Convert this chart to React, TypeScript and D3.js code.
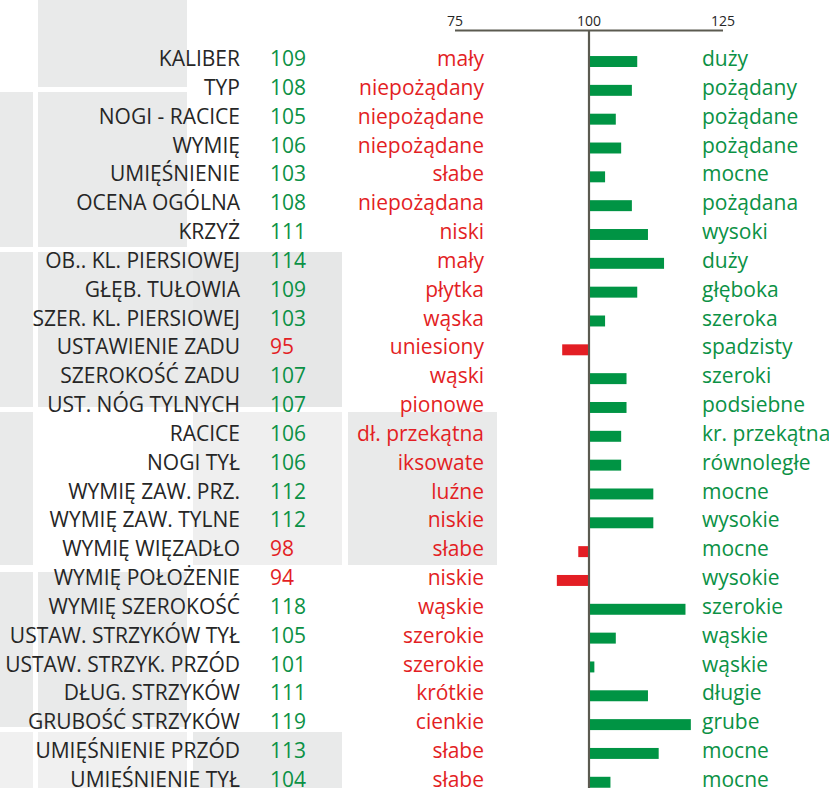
import * as d3 from 'd3';

const traits = [
  'KALIBER', 'TYP', 'NOGI - RACICE', 'WYMIĘ', 'UMIĘŚNIENIE', 'OCENA OGÓLNA', 'KRZYŻ',
  'OB.. KL. PIERSIOWEJ', 'GŁĘB. TUŁOWIA', 'SZER. KL. PIERSIOWEJ', 'USTAWIENIE ZADU',
  'SZEROKOŚĆ ZADU', 'UST. NÓG TYLNYCH', 'RACICE', 'NOGI TYŁ', 'WYMIĘ ZAW. PRZ.',
  'WYMIĘ ZAW. TYLNE', 'WYMIĘ WIĘZADŁO', 'WYMIĘ POŁOŻENIE', 'WYMIĘ SZEROKOŚĆ',
  'USTAW. STRZYKÓW TYŁ', 'USTAW. STRZYK. PRZÓD', 'DŁUG. STRZYKÓW', 'GRUBOŚĆ STRZYKÓW',
  'UMIĘŚNIENIE PRZÓD', 'UMIĘŚNIENIE TYŁ',
];

const scores = [
  109, 108, 105, 106, 103, 108, 111, 114, 109, 103, 95, 107, 107, 106, 106, 112, 112, 98, 94,
  118, 105, 101, 111, 119, 113, 104,
];

const lowWords = [
  'mały', 'niepożądany', 'niepożądane', 'niepożądane', 'słabe', 'niepożądana', 'niski', 'mały',
  'płytka', 'wąska', 'uniesiony', 'wąski', 'pionowe', 'dł. przekątna', 'iksowate', 'luźne',
  'niskie', 'słabe', 'niskie', 'wąskie', 'szerokie', 'szerokie', 'krótkie', 'cienkie', 'słabe', 'słabe',
];

const highWords = [
  'duży', 'pożądany', 'pożądane', 'pożądane', 'mocne', 'pożądana', 'wysoki', 'duży', 'głęboka',
  'szeroka', 'spadzisty', 'szeroki', 'podsiebne', 'kr. przekątna', 'równoległe', 'mocne', 'wysokie',
  'mocne', 'wysokie', 'szerokie', 'wąskie', 'wąskie', 'długie', 'grube', 'mocne', 'mocne',
];

const axisTicks = [75, 100, 125];

// decorative background tiles (x, y, w, h, fill)
const tiles: Array<[number, number, number, number, string]> = [
  [38, 0, 149, 87, '#e9eaea'],
  [0, 92, 33, 155, '#e9eaea'],
  [38, 92, 149, 155, '#e9eaea'],
  [0, 252, 33, 155, '#e9eaea'],
  [38, 252, 155, 155, '#e9eaea'],
  [193, 252, 149, 155, '#e6e7e7'],
  [0, 412, 33, 153, '#e9eaea'],
  [193, 412, 149, 153, '#efefef'],
  [348, 412, 149, 153, '#e9eaea'],
  [0, 572, 33, 155, '#e9eaea'],
  [38, 572, 149, 155, '#e9eaea'],
  [0, 732, 33, 56, '#f0f0f0'],
  [38, 732, 149, 56, '#f0f0f0'],
  [193, 732, 149, 56, '#e9eaea'],
];

const GREEN = '#009444';
const GREEN_TEXT = '#0b9145';
const RED = '#e31e24';
const DARK = '#262626';
const AXIS = '#5b5a50';
const FONT = "'Open Sans', sans-serif";

export default function App() {
  const width = 829;
  const height = 788;
  const x = d3.scaleLinear().domain([75, 125]).range([455, 723]);
  const y = d3
    .scaleBand<string>()
    .domain(traits)
    .range([47.1, 47.1 + traits.length * 28.83])
    .paddingInner(0.62)
    .paddingOuter(0.31);
  const bw = y.bandwidth();
  const rows = traits.map((name, i) => ({
    name,
    score: scores[i],
    low: lowWords[i],
    high: highWords[i],
  }));

  return (
    <>
      <style>{'body{margin:0}'}</style>
      <svg width={width} height={height} style={{ display: 'block', fontFamily: FONT }}>
        <rect width={width} height={height} fill="#ffffff" />
        {tiles.map(([tx, ty, tw, th, fill], i) => (
          <rect key={i} x={tx} y={ty} width={tw} height={th} fill={fill} />
        ))}

        <line x1={x(75)} x2={x(125)} y1={30.5} y2={30.5} stroke={AXIS} strokeWidth={2.2} />
        <line x1={x(100)} x2={x(100)} y1={30} y2={height} stroke={AXIS} strokeWidth={2.2} />
        {axisTicks.map((t) => (
          <text key={t} x={x(t)} y={25.5} textAnchor="middle" fontSize={14} fill={DARK}>
            {t}
          </text>
        ))}

        {rows.map((r) => {
          const top = y(r.name) ?? 0;
          const mid = top + bw / 2;
          const base = mid + 4.6;
          const good = r.score >= 100;
          const x0 = x(Math.min(100, r.score));
          const x1 = x(Math.max(100, r.score));
          return (
            <g key={r.name}>
              <text x={240} y={base} textAnchor="end" fontSize={21} fill={DARK}>
                {r.name}
              </text>
              <text x={270} y={base} fontSize={21} fill={good ? GREEN_TEXT : RED}>
                {r.score}
              </text>
              <text x={484} y={base} textAnchor="end" fontSize={21} fill={RED}>
                {r.low}
              </text>
              <rect
                x={good ? x0 + 1 : x0}
                y={top}
                width={Math.max(0, x1 - x0 - 1)}
                height={bw}
                fill={good ? GREEN : RED}
              />
              <text x={702} y={base} fontSize={21} fill={GREEN_TEXT}>
                {r.high}
              </text>
            </g>
          );
        })}
      </svg>
    </>
  );
}
